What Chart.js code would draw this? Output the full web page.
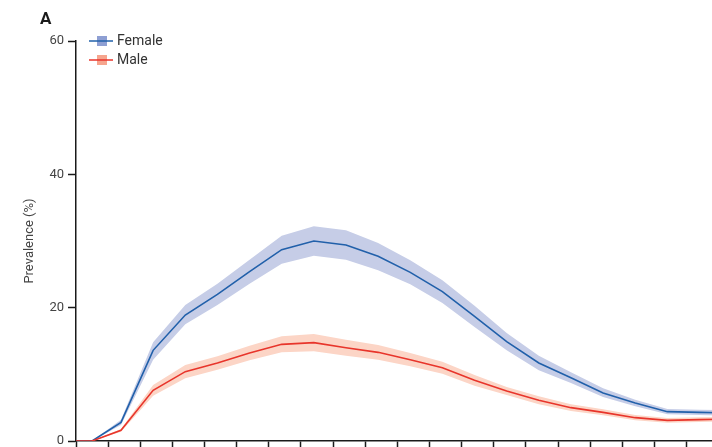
<!DOCTYPE html>
<html>
<head>
<meta charset="utf-8">
<script src="https://cdn.jsdelivr.net/npm/chart.js@4"></script>
<style>
  body { margin: 0; overflow: hidden; background: #fff; }
  #wrap { width: 730px; height: 447px; }
</style>
</head>
<body>
<div id="wrap"><canvas id="prevChart" width="730" height="447"></canvas></div>
<script>
// Dados (idade em anos, prevalência em %)
const ages = [0, 2.5, 7, 12, 17, 22, 27, 32, 37, 42, 47, 52, 57, 62, 67, 72, 77, 82, 87, 92, 97, 102];

const femaleMid  = [0, 0, 2.8, 13.6, 18.9, 22.0, 25.4, 28.7, 30.0, 29.4, 27.7, 25.3, 22.4, 18.7, 14.9, 11.7, 9.5, 7.2, 5.7, 4.4, 4.3, 4.2];
const femaleLow  = [0, 0, 2.4, 12.2, 17.5, 20.4, 23.6, 26.6, 27.8, 27.2, 25.6, 23.5, 20.7, 17.1, 13.6, 10.6, 8.7, 6.6, 5.2, 4.0, 3.9, 3.8];
const femaleHigh = [0, 0, 3.2, 14.8, 20.4, 23.6, 27.2, 30.8, 32.2, 31.6, 29.7, 27.1, 24.1, 20.3, 16.2, 12.8, 10.3, 7.9, 6.2, 4.8, 4.7, 4.6];

const maleMid  = [0, 0, 1.6, 7.6, 10.4, 11.7, 13.2, 14.5, 14.75, 14.0, 13.3, 12.2, 11.0, 9.1, 7.5, 6.1, 5.0, 4.3, 3.5, 3.1, 3.2, 3.3];
const maleLow  = [0, 0, 1.4, 6.8, 9.4, 10.7, 12.1, 13.3, 13.45, 12.8, 12.2, 11.2, 10.1, 8.3, 6.9, 5.5, 4.5, 3.85, 3.1, 2.75, 2.85, 2.95];
const maleHigh = [0, 0, 1.8, 8.4, 11.4, 12.7, 14.3, 15.7, 16.05, 15.2, 14.4, 13.2, 11.9, 9.9, 8.1, 6.7, 5.5, 4.75, 3.9, 3.45, 3.55, 3.65];

const yTicks = [0, 20, 40, 60];
const seriesNames = ["Female", "Male"];
const panelLabel = "A";
const yTitle = "Prevalence (%)";

// Cores
const femaleLine = "#2160aa";
const femaleBand = "rgba(198, 205, 231, 1)";
const femaleKey  = "#8e9fd3";
const maleLine   = "#e8352b";
const maleBand   = "rgba(252, 213, 198, 1)";
const maleKey    = "#f6a58e";

function pts(values) {
    return ages.map((a, i) => ({ x: a, y: values[i] }));
}

// Legenda e rótulo do painel
const extras = {
    id: "extras",
    afterDraw(chart) {
        const ctx = chart.ctx;
        ctx.save();
        ctx.fillStyle = "#1a1a1a";
        ctx.font = "bold 17px Roboto, 'Open Sans', sans-serif";
        ctx.textBaseline = "alphabetic";
        ctx.fillText(panelLabel, 40, 24);

        const keys = [
            { name: seriesNames[0], line: femaleLine, box: femaleKey, y: 41 },
            { name: seriesNames[1], line: maleLine, box: maleKey, y: 60 }
        ];
        keys.forEach(k => {
            ctx.fillStyle = k.box;
            ctx.fillRect(97, k.y - 5, 10, 10);
            ctx.strokeStyle = k.line;
            ctx.lineWidth = 1.5;
            ctx.beginPath();
            ctx.moveTo(89, k.y);
            ctx.lineTo(113, k.y);
            ctx.stroke();
            ctx.fillStyle = "#333";
            ctx.font = "14px Roboto, 'Open Sans', sans-serif";
            ctx.textBaseline = "middle";
            ctx.fillText(k.name, 117, k.y);
        });
        ctx.restore();
    }
};

const bandStyle = { pointRadius: 0, borderWidth: 0, tension: 0, order: 2 };
const lineStyle = { pointRadius: 0, borderWidth: 1.6, tension: 0, fill: false, order: 0 };

new Chart(document.getElementById("prevChart"), {
    type: "line",
    data: {
        datasets: [
            { label: "Female low", data: pts(femaleLow), ...bandStyle, fill: false },
            { label: "Female high", data: pts(femaleHigh), ...bandStyle, backgroundColor: femaleBand, fill: "-1" },
            { label: "Male low", data: pts(maleLow), ...bandStyle, fill: false },
            { label: "Male high", data: pts(maleHigh), ...bandStyle, backgroundColor: maleBand, fill: "-1" },
            { label: seriesNames[1], data: pts(maleMid), ...lineStyle, borderColor: maleLine },
            { label: seriesNames[0], data: pts(femaleMid), ...lineStyle, borderColor: femaleLine }
        ]
    },
    options: {
        responsive: false,
        animation: false,
        layout: { padding: { top: 41, right: 11.2, left: 0, bottom: 0 } },
        plugins: {
            legend: { display: false },
            tooltip: { enabled: false }
        },
        scales: {
            x: {
                type: "linear",
                min: 0,
                max: 100,
                ticks: { display: false, stepSize: 5 },
                grid: { drawOnChartArea: false, drawTicks: true, tickLength: 8, tickColor: "#1a1a1a", tickWidth: 1.5 },
                border: { color: "#1a1a1a", width: 1.5 },
                afterFit: s => { s.height = 6; s.paddingLeft = 0; s.paddingRight = 0; }
            },
            y: {
                min: 0,
                max: 60,
                afterBuildTicks: s => { s.ticks = yTicks.map(v => ({ value: v })); },
                ticks: { color: "#444", padding: 4, font: { size: 13, family: "Roboto, 'Open Sans', sans-serif" } },
                grid: { drawOnChartArea: false, drawTicks: true, tickLength: 8, tickColor: "#1a1a1a", tickWidth: 1.5 },
                border: { color: "#1a1a1a", width: 1.5 },
                title: {
                    display: true,
                    text: yTitle,
                    color: "#444",
                    padding: { top: 22, bottom: 0 },
                    font: { size: 13, family: "Roboto, 'Open Sans', sans-serif" }
                },
                afterFit: s => { s.width = 76; s.paddingTop = 0; s.paddingBottom = 0; }
            }
        }
    },
    plugins: [extras]
});
</script>
</body>
</html>
